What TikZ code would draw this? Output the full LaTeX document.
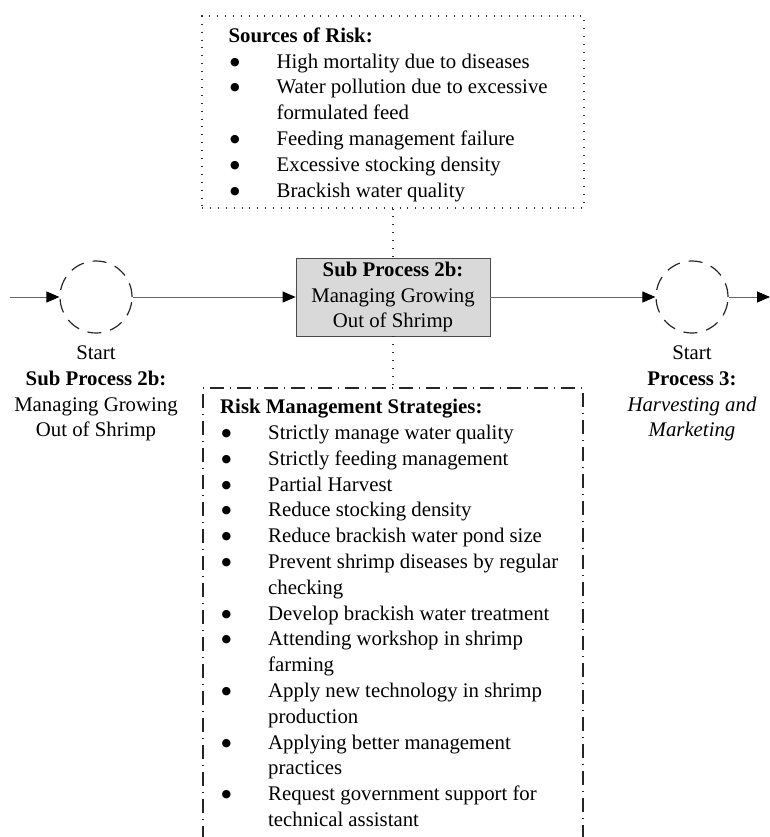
\documentclass[tikz,border=0pt]{standalone}
\usepackage{fontspec}
\setmainfont{Liberation Serif}
\newfontfamily\symfont{DejaVu Sans}
\usetikzlibrary{arrows.meta, positioning}

\newcommand{\bul}{\makebox[48pt][l]{\hspace{1.5pt}\raisebox{3pt}{\symfont\fontsize{11}{11}\selectfont ●}}}
\newcommand{\cont}{\hspace*{48pt}}

\begin{document}
\begin{tikzpicture}[
      x=1pt, y=-1pt,
      txt/.style={font=\fontsize{20.8}{25.8}\selectfont, inner sep=0pt},
      listtxt/.style={txt, align=left, anchor=north west},
      lbl/.style={txt, align=center},
      startc/.style={circle, draw=black!85, line width=1.2pt,
                     dash pattern=on 14pt off 9pt, minimum size=72pt},
      subproc/.style={draw=black!70, fill=black!15, line width=0.8pt,
                      minimum width=194pt, minimum height=78pt,
                      txt, align=center},
      dotline/.style={draw=black!80, line width=1.1pt,
                      dash pattern=on 0.9pt off 7pt},
      ddline/.style={draw=black!85, line width=1.1pt,
                     dash pattern=on 14pt off 6pt on 1pt off 6pt},
      srcbox/.style={dotline, minimum width=382pt, minimum height=192pt},
      link/.style={draw=black!60, line width=0.9pt,
                   -{Triangle[length=13pt, width=11pt, color=black]}}
    ]

    \useasboundingbox (0,0) rectangle (770,837);

    \node[srcbox] (risk) at (393,112) {};
    \node[listtxt] (risklist) at ([xshift=27pt, yshift=-12pt]risk.north west)
      {\textbf{Sources of Risk:}\\
       \bul High mortality due to diseases\\
       \bul Water pollution due to excessive\\
       \cont formulated feed\\
       \bul Feeding management failure\\
       \bul Excessive stocking density\\
       \bul Brackish water quality};

    \node[subproc] (sub) at (393,297)
      {\textbf{Sub Process 2b:}\\Managing Growing\\Out of Shrimp};

    \node[startc] (start2b) at (96,297) {};
    \node[startc] (start3)  at (692,297) {};
    \node[lbl, below=12pt of start2b] (start2blbl)
      {Start\\\textbf{Sub Process 2b:}\\Managing Growing\\Out of Shrimp};
    \node[lbl, below=12pt of start3] (start3lbl)
      {Start\\\textbf{Process 3:}\\\textit{Harvesting and}\\\textit{Marketing}};

    \coordinate (flowin)  at (10,297);
    \coordinate (flowout) at (770,297);
    \coordinate (stratnw) at (203,388);
    \coordinate (stratne) at (583,388);
    \coordinate (stratn)  at (393,388);

    \draw[ddline] (203,840) -- (stratnw) -- (stratne) -- (583,840);
    \node[listtxt] (stratlist) at ([xshift=17pt, yshift=-11pt]stratnw)
      {\textbf{Risk Management Strategies:}\\
       \bul Strictly manage water quality\\
       \bul Strictly feeding management\\
       \bul Partial Harvest\\
       \bul Reduce stocking density\\
       \bul Reduce brackish water pond size\\
       \bul Prevent shrimp diseases by regular\\
       \cont checking\\
       \bul Develop brackish water treatment\\
       \bul Attending workshop in shrimp\\
       \cont farming\\
       \bul Apply new technology in shrimp\\
       \cont production\\
       \bul Applying better management\\
       \cont practices\\
       \bul Request government support for\\
       \cont technical assistant};

    \draw[dotline] (risk.south) -- (sub.north);
    \draw[dotline] (sub.south) -- (stratn);

    \draw[link] (flowin)  -- (start2b);
    \draw[link] (start2b) -- (sub);
    \draw[link] (sub)     -- (start3);
    \draw[link] (start3)  -- (flowout);
  \end{tikzpicture}
\end{document}
